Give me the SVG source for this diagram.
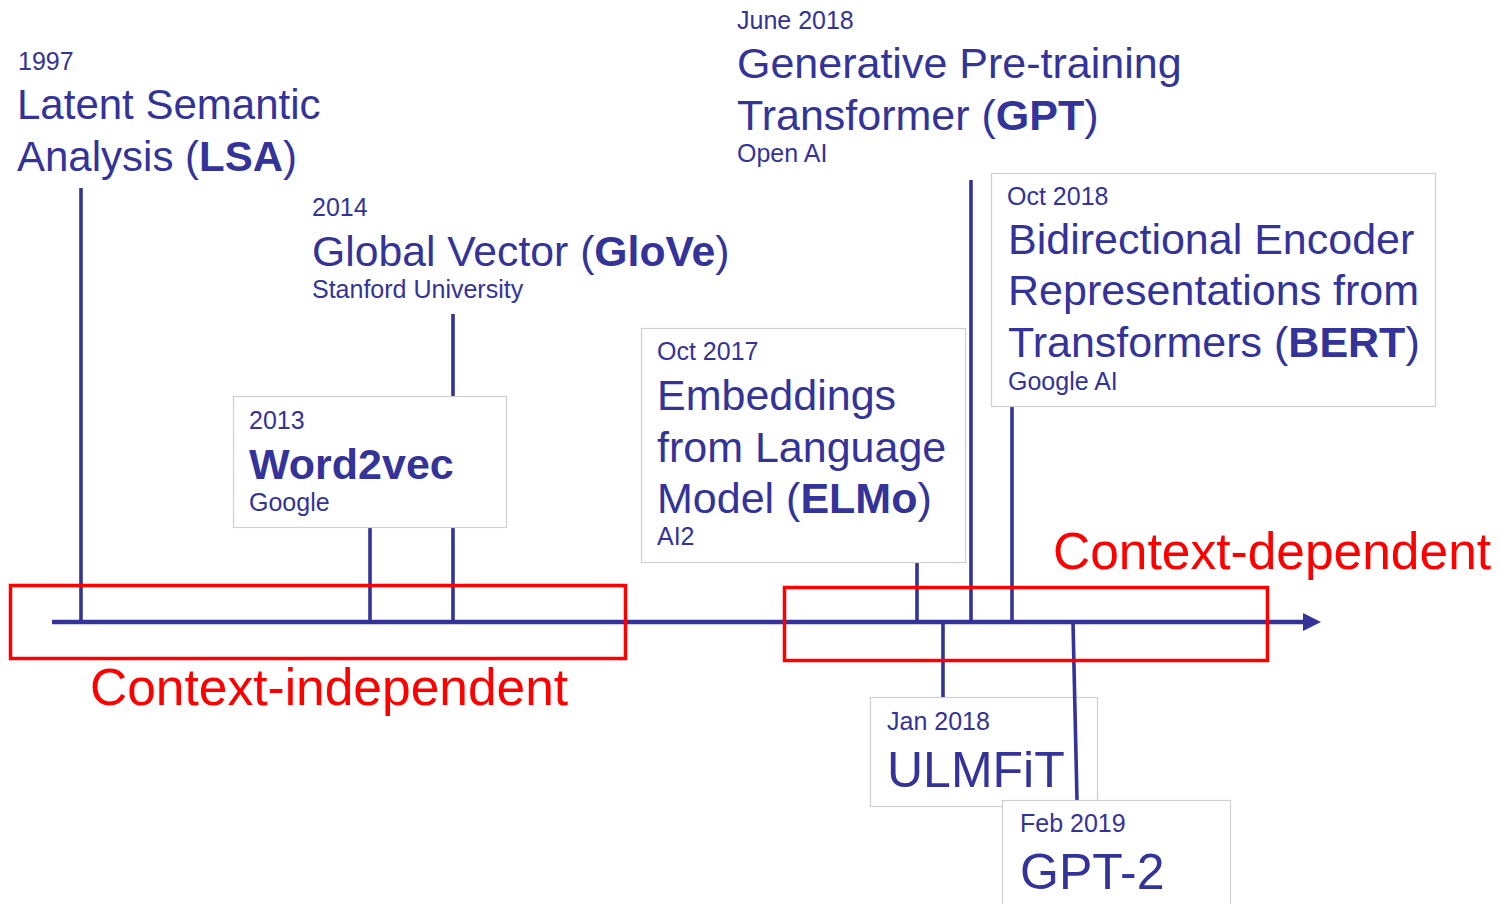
<svg xmlns="http://www.w3.org/2000/svg" width="1499" height="904" viewBox="0 0 1499 904">
<style>
text{font-family:"Liberation Sans",Arial,sans-serif;fill:#333399}
.d{font-size:25px}
.t{font-size:43px}
.big{font-size:50px}
.b{font-weight:bold}
.box{fill:#fff;stroke:#cfcfcf;stroke-width:1.2}
.ln{stroke:#333399;stroke-width:3.6;fill:none}
.red{fill:none;stroke:#ff0000;stroke-width:3.5}
.rt{font-size:51.5px;fill:#ff0000}
</style>
<rect width="1499" height="904" fill="#fff"/>
<g id="node-ulmfit">
<rect class="box" x="870.5" y="697.5" width="227" height="109"/>
<text class="d" x="887" y="730">Jan 2018</text>
<text class="big" x="887" y="787">ULMFiT</text>
</g>
<g id="connectors">
<line class="ln" x1="52" y1="622" x2="1306" y2="622" style="stroke-width:4.5"/>
<polygon points="1303,613 1321,622 1303,631" fill="#333399"/>
<line class="ln" x1="81" y1="188" x2="81" y2="622"/>
<line class="ln" x1="370" y1="527" x2="370" y2="622"/>
<line class="ln" x1="453" y1="314" x2="453" y2="622"/>
<line class="ln" x1="917" y1="563" x2="917" y2="622"/>
<line class="ln" x1="971" y1="180" x2="971" y2="622"/>
<line class="ln" x1="1012" y1="407" x2="1012" y2="622"/>
<line class="ln" x1="943" y1="622" x2="943" y2="697"/>
<line class="ln" x1="1073" y1="622" x2="1077" y2="800"/>
</g>
<g id="node-lsa">
<text class="d" x="18" y="70">1997</text>
<text class="t" x="17" y="119" style="font-size:42px">Latent Semantic</text>
<text class="t" x="17" y="171" style="font-size:42px">Analysis (<tspan class="b">LSA</tspan>)</text>
</g>
<g id="node-glove">
<text class="d" x="312" y="216">2014</text>
<text class="t" x="312" y="266" style="font-size:42.7px">Global Vector (<tspan class="b">GloVe</tspan>)</text>
<text class="d" x="312" y="298">Stanford University</text>
</g>
<g id="node-word2vec">
<rect class="box" x="233.5" y="396.5" width="273" height="131"/>
<text class="d" x="249" y="429">2013</text>
<text class="t b" x="249" y="479">Word2vec</text>
<text class="d" x="249" y="511">Google</text>
</g>
<g id="node-elmo">
<rect class="box" x="641.5" y="328.5" width="324" height="234"/>
<text class="d" x="657" y="360">Oct 2017</text>
<text class="t" x="657" y="410">Embeddings</text>
<text class="t" x="657" y="462">from Language</text>
<text class="t" x="657" y="513">Model (<tspan class="b">ELMo</tspan>)</text>
<text class="d" x="657" y="545">AI2</text>
</g>
<g id="node-gpt">
<text class="d" x="737" y="29">June 2018</text>
<text class="t" x="737" y="78">Generative Pre-training</text>
<text class="t" x="737" y="130">Transformer (<tspan class="b">GPT</tspan>)</text>
<text class="d" x="737" y="162">Open AI</text>
</g>
<g id="node-bert">
<rect class="box" x="991.5" y="173.5" width="444" height="233"/>
<text class="d" x="1007" y="205">Oct 2018</text>
<text class="t" x="1008" y="254">Bidirectional Encoder</text>
<text class="t" x="1008" y="305">Representations from</text>
<text class="t" x="1008" y="357">Transformers (<tspan class="b">BERT</tspan>)</text>
<text class="d" x="1008" y="390">Google AI</text>
</g>
<g id="node-gpt2">
<rect class="box" x="1002.5" y="800.5" width="228" height="110"/>
<text class="d" x="1020" y="832">Feb 2019</text>
<text class="big" x="1020" y="889">GPT-2</text>
</g>
<g id="regions">
<rect class="red" x="10.5" y="585.5" width="615" height="73"/>
<text class="rt" x="90" y="705">Context-independent</text>
<rect class="red" x="784.5" y="587.5" width="483" height="73"/>
<text class="rt" x="1053" y="569">Context-dependent</text>
</g>
</svg>
